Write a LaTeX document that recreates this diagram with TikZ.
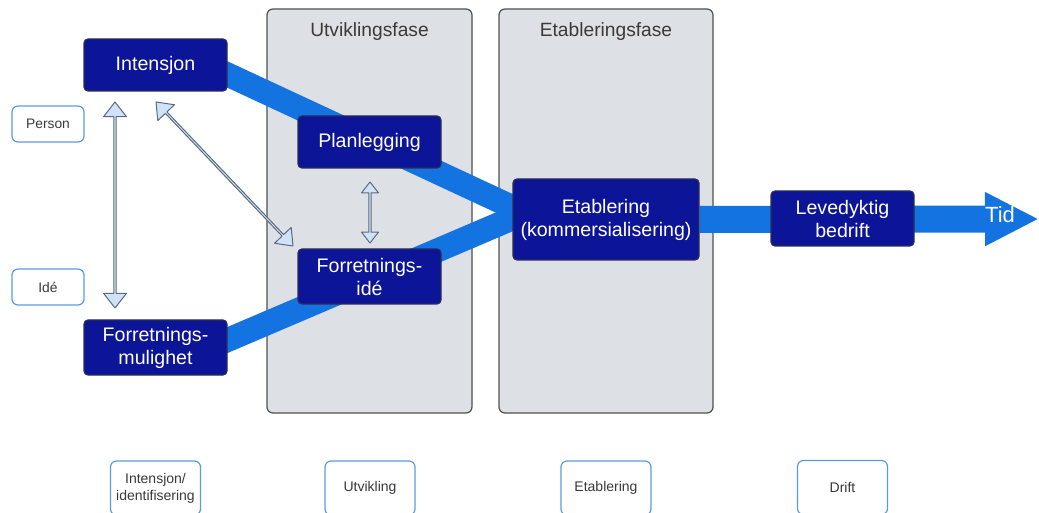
\documentclass[tikz,border=0pt]{standalone}
\usepackage{fontspec}
\setmainfont{Liberation Sans}
\usetikzlibrary{arrows.meta,shapes.arrows,positioning,backgrounds,calc}
\definecolor{navy}{HTML}{0C1497}
\definecolor{navyline}{HTML}{2A2E55}
\definecolor{bandblue}{HTML}{1374E1}
\definecolor{paleblue}{HTML}{CFE2F8}
\definecolor{paleline}{HTML}{5B6B80}
\definecolor{phasegray}{HTML}{DDE0E5}
\definecolor{phaseline}{HTML}{505050}
\definecolor{tagline}{HTML}{5B9BE6}
\definecolor{tagtext}{HTML}{3A3A3A}
\begin{document}
\begin{tikzpicture}[x=0.5pt, y=-0.5pt, line join=round,
	darkbox/.style={draw=navyline, line width=0.6pt, fill=navy, rounded corners=2pt, text=white, font=\fontsize{9.8}{11.5}\selectfont, align=center, inner sep=0pt},
	phasebox/.style={draw=phaseline, line width=0.6pt, fill=phasegray, rounded corners=3pt},
	phaselabel/.style={text=tagtext, font=\fontsize{9.6}{11}\selectfont, inner sep=0pt},
	tagbox/.style={draw=tagline, line width=0.6pt, fill=white, rounded corners=3pt, text=tagtext, font=\fontsize{7}{8.5}\selectfont, align=center, inner sep=0pt},
	band/.style={bandblue, line width=12pt},
	pairarrow/.style={double arrow, draw=paleline, line width=0.5pt, fill=paleblue, inner sep=0pt, double arrow tip angle=76, sloped}]
	\useasboundingbox (0,0) rectangle (1039,513);
	\node[darkbox, minimum width=71.5pt, minimum height=26pt] (int) at (155.5,65) {Intensjon};
	\node[darkbox, minimum width=71.5pt, minimum height=27.5pt] (mul) at (155.5,347.5) {Forretnings-\\mulighet};
	\node[darkbox, minimum width=71.5pt, minimum height=26pt] (plan) at (369.5,142) {Planlegging};
	\node[darkbox, minimum width=71.5pt, minimum height=27.5pt] (fid) at (369.5,276.5) {Forretnings-\\idé};
	\node[darkbox, minimum width=93pt, minimum height=40.5pt] (etab) at (606,219.5) {Etablering\\(kommersialisering)};
	\node[darkbox, minimum width=71.5pt, minimum height=27.5pt] (lev) at (842.5,218.5) {Levedyktig\\bedrift};
	\coordinate (merge) at (525,213);
	\coordinate (tid) at (1039,219);
	\begin{pgfonlayer}{background}
		\node[phasebox, minimum width=102.5pt, minimum height=202pt] (utv) at (369.5,211) {};
		\node[phasebox, minimum width=107pt, minimum height=202pt] (etabfase) at (606,211) {};
		\draw[band] ($(int.east)+(-27,-3)$) -- (merge);
		\draw[band] ($(mul.east)+(-27,4)$) -- (merge);
		\draw[bandblue, line width=13.5pt, -{Triangle[length=27pt, width=25pt]}] (etab.east) -- (tid);
	\end{pgfonlayer}
	\node[phaselabel, below=7pt of utv.north] (utvlabel) {Utviklingsfase};
	\node[phaselabel, below=7pt of etabfase.north] (etablabel) {Etableringsfase};
	\node[text=white, font=\fontsize{11}{13}\selectfont] (tidlabel) at (1000,215) {Tid};
	\node[tagbox, font=\fontsize{6.9}{8}\selectfont, minimum width=36pt, minimum height=18pt] (person) at (48,124) {Person};
	\node[tagbox, font=\fontsize{6.9}{8}\selectfont, minimum width=36pt, minimum height=18pt] (ide) at (48,287) {Idé};
	\node[tagbox, minimum width=45pt, minimum height=27pt] (fase1) at (155.5,488) {Intensjon/\\identifisering};
	\node[tagbox, minimum width=45pt, minimum height=27pt] (fase2) at (370,488) {Utvikling};
	\node[tagbox, minimum width=45pt, minimum height=27pt] (fase3) at (606,488) {Etablering};
	\node[tagbox, minimum width=45pt, minimum height=27pt] (fase4) at (842.5,487.5) {Drift};
	\coordinate (va) at (115,102);
	\coordinate (vb) at (115,308);
	\coordinate (da) at (156,102);
	\coordinate (db) at (293,246);
	\coordinate (sa) at (370,182);
	\coordinate (sb) at (370,243);
	\path (va) -- (vb) node[midway, pairarrow, minimum height=103pt, minimum width=11.5pt, double arrow head extend=2.4pt] (pairv) {};
	\path (da) -- (db) node[midway, pairarrow, minimum height=99.4pt, minimum width=11.5pt, double arrow head extend=2.4pt] (paird) {};
	\path (sa) -- (sb) node[midway, pairarrow, minimum height=30.5pt, minimum width=8.5pt, double arrow head extend=1.7pt] (pairs) {};
\end{tikzpicture}
\end{document}
